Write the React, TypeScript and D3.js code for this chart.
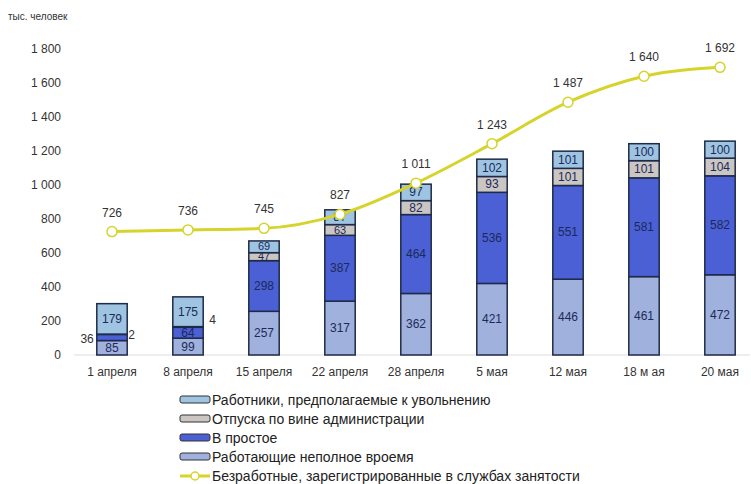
import { useEffect } from 'react'
import * as d3 from 'd3'

const W = 751, H = 484
const dates = ['1 апреля', '8 апреля', '15 апреля', '22 апреля', '28 апреля', '5 мая', '12 мая', '18 м ая', '20 мая']
const partTime = [85, 99, 257, 317, 362, 421, 446, 461, 472]
const idle = [36, 64, 298, 387, 464, 536, 551, 581, 582]
const leave = [2, 4, 47, 63, 82, 93, 101, 101, 104]
const dismiss = [179, 175, 69, 87, 97, 102, 101, 100, 100]
const unemployed = [726, 736, 745, 827, 1011, 1243, 1487, 1640, 1692]
const yTicks = [0, 200, 400, 600, 800, 1000, 1200, 1400, 1600, 1800]

const series = [
  { name: 'Работающие неполное вроемя', values: partTime, color: '#9fb1dc' },
  { name: 'В простое', values: idle, color: '#4a60d4' },
  { name: 'Отпуска по вине администрации', values: leave, color: '#cbc6c2' },
  { name: 'Работники, предполагаемые к увольнению', values: dismiss, color: '#9ec4e2' },
]
const LINE_COLOR = '#d6d42c'
const fmt = (v: number) => (v >= 1000 ? `${Math.floor(v / 1000)} ${String(v % 1000).padStart(3, '0')}` : String(v))

export default function App() {
  useEffect(() => { document.body.style.margin = '0' }, [])

  const x = d3.scaleBand<string>().domain(dates).range([74, 758]).paddingInner(0.6).paddingOuter(0.3)
  const y = d3.scaleLinear().domain([0, 1800]).range([355, 49])
  const bw = x.bandwidth()
  const cx = (i: number) => (x(dates[i]) ?? 0) + bw / 2

  const line = d3.line<number>().x((_, i) => cx(i)).y((d) => y(d)).curve(d3.curveMonotoneX)

  const font = 'Liberation Sans, Arial, sans-serif'
  const legend = [
    { name: series[3].name, color: series[3].color },
    { name: series[2].name, color: series[2].color },
    { name: series[1].name, color: series[1].color },
    { name: series[0].name, color: series[0].color },
  ]

  return (
    <svg width={W} height={H} style={{ display: 'block', fontFamily: font }}>
      <rect width={W} height={H} fill="#fff" />
      <text x={8} y={20} fontSize={10} fill="#333">тыс. человек</text>
      {yTicks.map((t) => (
        <text key={t} x={61} y={y(t) + 4} fontSize={12} fill="#333" textAnchor="end">{fmt(t)}</text>
      ))}
      <line x1={74} x2={750} y1={y(0)} y2={y(0)} stroke="#ddd" />
      {dates.map((d, i) => {
        let acc = 0
        const x0 = x(d) ?? 0
        return (
          <g key={d}>
            {series.map((s, si) => {
              const v = s.values[i]
              const y0 = y(acc), y1 = y(acc + v)
              acc += v
              const mid = (y0 + y1) / 2
              const h = y0 - y1
              const small = i < 2 && (si === 1 || si === 2)
              let lx = x0 + bw / 2, anchor: 'middle' | 'start' | 'end' = 'middle'
              const fs = h < 12 && !small ? 11 : 12
              let ly = mid + fs / 3
              if (i === 0 && si === 1) { lx = x0 - 3; anchor = 'end'; ly = mid + 6 }
              if (i === 0 && si === 2) { lx = x0 + bw + 1; anchor = 'start'; ly = mid + 5 }
              if (i === 1 && si === 2) { lx = x0 + bw + 6; anchor = 'start'; ly = mid - 3 }
              const showOutside = small && !(i === 1 && si === 1)
              return (
                <g key={s.name}>
                  <rect x={x0} y={y1} width={bw} height={h} fill={s.color} stroke="#1e2a48" strokeWidth={1.5} />
                  <text x={lx} y={ly} fontSize={fs} fill={showOutside ? '#333' : '#1c2a5a'} textAnchor={anchor}>{v}</text>
                </g>
              )
            })}
          </g>
        )
      })}
      <path d={line(unemployed) ?? ''} fill="none" stroke={LINE_COLOR} strokeWidth={3} />
      {unemployed.map((v, i) => (
        <g key={i}>
          <circle cx={cx(i)} cy={y(v)} r={5} fill="#fff" stroke={LINE_COLOR} strokeWidth={1.5} />
          <text x={cx(i)} y={y(v) - 15} fontSize={12} fill="#333" textAnchor="middle">{fmt(v)}</text>
        </g>
      ))}
      {dates.map((d, i) => (
        <text key={d} x={cx(i)} y={376} fontSize={12} fill="#333" textAnchor="middle">{d}</text>
      ))}
      {legend.map((l, i) => (
        <g key={l.name} transform={`translate(180, ${400 + i * 19})`}>
          <rect x={0} y={-4} width={30} height={7} rx={2} fill={l.color} stroke="#333" strokeWidth={1} />
          <text x={32} y={5} fontSize={14} fill="#222">{l.name}</text>
        </g>
      ))}
      <g transform={`translate(180, ${400 + 4 * 19})`}>
        <line x1={0} x2={30} y1={0} y2={0} stroke={LINE_COLOR} strokeWidth={3} />
        <circle cx={15} cy={0} r={4} fill="#fff" stroke={LINE_COLOR} strokeWidth={1.5} />
        <text x={32} y={5} fontSize={14} fill="#222">Безработные, зарегистрированные в службах занятости</text>
      </g>
    </svg>
  )
}
